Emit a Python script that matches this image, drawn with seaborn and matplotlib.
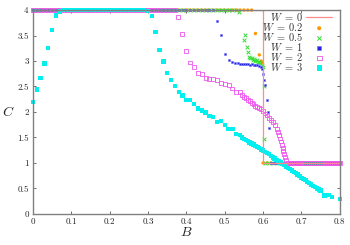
import numpy as np
import matplotlib
matplotlib.use('Agg')
import matplotlib.pyplot as plt
import seaborn as sns


def grid(start, stop, step):
    n = int(round((stop - start) / step)) + 1
    return [round(start + i * step, 4) for i in range(n)]


# W = 0 : step curve
b_w0 = [0.0, 0.6, 0.6, 0.8]
c_w0 = [4.0, 4.0, 1.0, 1.0]

# W = 0.2
top_w02 = grid(0.0, 0.57, 0.01)
mid_b_w02 = [0.58, 0.59, 0.595, 0.598]
mid_c_w02 = [3.54, 3.12, 3.0, 2.97]
low_w02 = grid(0.60, 0.80, 0.01)

# W = 0.5
top_w05 = grid(0.0, 0.53, 0.01)
mid_b_w05 = [0.538, 0.549, 0.553, 0.557, 0.56, 0.563, 0.566, 0.57, 0.573, 0.576, 0.58,
             0.583, 0.586, 0.59, 0.593, 0.596, 0.6, 0.603, 0.603]
mid_c_w05 = [3.96, 3.42, 3.52, 3.28, 3.17, 3.08, 3.05, 3.06, 3.02, 3.04, 3.0,
             3.01, 2.99, 2.98, 2.96, 2.93, 2.88, 2.51, 1.46]
low_w05 = grid(0.605, 0.795, 0.01)

# W = 1
top_w1 = grid(0.0, 0.47, 0.01)
mid_b_w1 = [0.479, 0.49, 0.5, 0.51, 0.518, 0.527, 0.535, 0.54, 0.545, 0.55, 0.555, 0.56,
            0.565, 0.57, 0.575, 0.58, 0.585, 0.59, 0.595, 0.598, 0.601, 0.603, 0.605,
            0.611, 0.612, 0.615]
mid_c_w1 = [3.79, 3.52, 3.14, 3.02, 2.98, 2.96, 2.96, 2.95, 2.95, 2.94, 2.95, 2.94,
            2.93, 2.94, 2.93, 2.92, 2.92, 2.91, 2.88, 2.84, 2.75, 2.63, 2.53,
            2.24, 1.99, 1.68]
low_w1 = grid(0.62, 0.66, 0.005) + grid(0.67, 0.80, 0.01)

# W = 2
top_w2 = grid(0.0, 0.37, 0.01)
mid_b_w2 = [0.378, 0.389, 0.399, 0.41, 0.42, 0.43, 0.44, 0.45, 0.46, 0.47, 0.48, 0.49,
            0.5, 0.51, 0.52, 0.53, 0.54, 0.545, 0.55, 0.555, 0.56, 0.565, 0.57, 0.575,
            0.58, 0.585, 0.59, 0.595, 0.6, 0.605, 0.61, 0.615, 0.62, 0.625, 0.63,
            0.635, 0.638, 0.641, 0.644, 0.647, 0.649, 0.651, 0.653, 0.655, 0.657, 0.66]
mid_c_w2 = [3.87, 3.53, 3.2, 2.97, 2.89, 2.77, 2.75, 2.66, 2.65, 2.65, 2.62, 2.57,
            2.55, 2.53, 2.46, 2.39, 2.40, 2.33, 2.30, 2.27, 2.24, 2.21, 2.18, 2.15,
            2.12, 2.10, 2.08, 2.05, 2.02, 1.97, 1.93, 1.89, 1.85, 1.80, 1.75,
            1.67, 1.60, 1.54, 1.48, 1.42, 1.36, 1.30, 1.24, 1.18, 1.11, 1.05]
low_w2 = grid(0.665, 0.80, 0.005)

# W = 3
rise_b_w3 = grid(0.0, 0.07, 0.01)
rise_c_w3 = [2.20, 2.44, 2.67, 2.95, 3.26, 3.61, 3.89, 3.97]
top_w3 = grid(0.08, 0.29, 0.01)
fall_b_w3 = [0.30, 0.31, 0.32, 0.33, 0.34, 0.35, 0.36, 0.37, 0.38, 0.39, 0.40, 0.41,
             0.42, 0.43, 0.44, 0.45, 0.46, 0.47, 0.48, 0.49, 0.50, 0.51, 0.52, 0.53,
             0.54] + grid(0.545, 0.75, 0.005) + [0.76, 0.77, 0.78, 0.80]
fall_c_w3 = [3.98, 3.88, 3.57, 3.22, 2.99, 2.77, 2.63, 2.51, 2.39, 2.32, 2.23, 2.24,
             2.16, 2.07, 2.03, 1.99, 1.92, 1.90, 1.80, 1.82, 1.74, 1.67, 1.66, 1.57,
             1.55,
             1.50, 1.47, 1.45, 1.43, 1.40, 1.38, 1.36, 1.33, 1.31, 1.29, 1.26, 1.24,
             1.21, 1.19, 1.17, 1.14, 1.11, 1.09, 1.06, 1.04, 1.01, 0.98, 0.96, 0.93,
             0.90, 0.88, 0.85, 0.82, 0.80, 0.77, 0.74, 0.71, 0.69, 0.66, 0.63, 0.61,
             0.58, 0.55, 0.53, 0.50, 0.48, 0.46,
             0.36, 0.37, 0.33, 0.29]

b_w02 = top_w02 + mid_b_w02 + low_w02
c_w02 = [4.0] * len(top_w02) + mid_c_w02 + [1.0] * len(low_w02)
b_w05 = top_w05 + mid_b_w05 + low_w05
c_w05 = [4.0] * len(top_w05) + mid_c_w05 + [1.0] * len(low_w05)
b_w1 = top_w1 + mid_b_w1 + low_w1
c_w1 = [4.0] * len(top_w1) + mid_c_w1 + [1.0] * len(low_w1)
b_w2 = top_w2 + mid_b_w2 + low_w2
c_w2 = [4.0] * len(top_w2) + mid_c_w2 + [1.0] * len(low_w2)
b_w3 = rise_b_w3 + top_w3 + fall_b_w3
c_w3 = rise_c_w3 + [4.0] * len(top_w3) + fall_c_w3

sns.set_theme(style='ticks')
plt.rcParams['font.family'] = ['cmr10', 'DejaVu Serif']
plt.rcParams['mathtext.fontset'] = 'cm'
plt.rcParams['axes.formatter.use_mathtext'] = True

fig = plt.figure(figsize=(3.5, 2.45), dpi=100)
ax = fig.add_axes([0.094, 0.127, 0.877, 0.832])

sns.lineplot(x=b_w0, y=c_w0, sort=False, estimator=None, color='#ff8c8c',
             lw=0.9, ax=ax, label=r'$W\;=\;0$')
sns.scatterplot(x=b_w02, y=c_w02, marker='o', s=6, color='#ff9900',
                edgecolor='none', ax=ax, label=r'$W\;=\;0.2$')
sns.scatterplot(x=b_w05, y=c_w05, marker='x', s=7, color='#33dd33',
                linewidth=0.7, ax=ax, label=r'$W\;=\;0.5$')
sns.scatterplot(x=b_w1, y=c_w1, marker='s', s=4, color='#2222dd',
                edgecolor='#7070ff', linewidth=0.4, ax=ax, label=r'$W\;=\;1$')
sns.scatterplot(x=b_w2, y=c_w2, marker='s', s=8, facecolor='none',
                edgecolor='#ee55ee', linewidth=0.6, ax=ax, label=r'$W\;=\;2$')
sns.scatterplot(x=b_w3, y=c_w3, marker='s', s=10, color='#00f0f0',
                edgecolor='none', ax=ax, label=r'$W\;=\;3$')
for coll in ax.collections:
    coll.set_clip_on(False)

ax.set_xlim(0, 0.8)
ax.set_ylim(0, 4)
ax.set_xticks(np.arange(0, 0.81, 0.1))
ax.set_xticklabels(['0', '0.1', '0.2', '0.3', '0.4', '0.5', '0.6', '0.7', '0.8'])
ax.set_yticks(np.arange(0, 4.01, 0.5))
ax.set_yticklabels(['0', '0.5', '1', '1.5', '2', '2.5', '3', '3.5', '4'])
ax.tick_params(direction='in', length=2.5, width=0.6, labelsize=6.5,
               top=True, right=True, color='#555555', pad=3)
for sp in ax.spines.values():
    sp.set_color('#808080')
    sp.set_linewidth(1.0)
ax.set_xlabel(r'$B$', fontsize=10, labelpad=0)
ax.set_ylabel(r'$C$', fontsize=10, rotation=0, labelpad=6, va='center')

leg = ax.legend(loc='upper right', bbox_to_anchor=(0.975, 0.995), frameon=False,
                markerfirst=False, fontsize=7.5, handlelength=2.5,
                handletextpad=0.3, labelspacing=-0.2, borderpad=0.0,
                borderaxespad=0.0, markerscale=1.2)
for t in leg.get_texts():
    t.set_color('#333333')

fig.savefig('out.png', dpi=100)
